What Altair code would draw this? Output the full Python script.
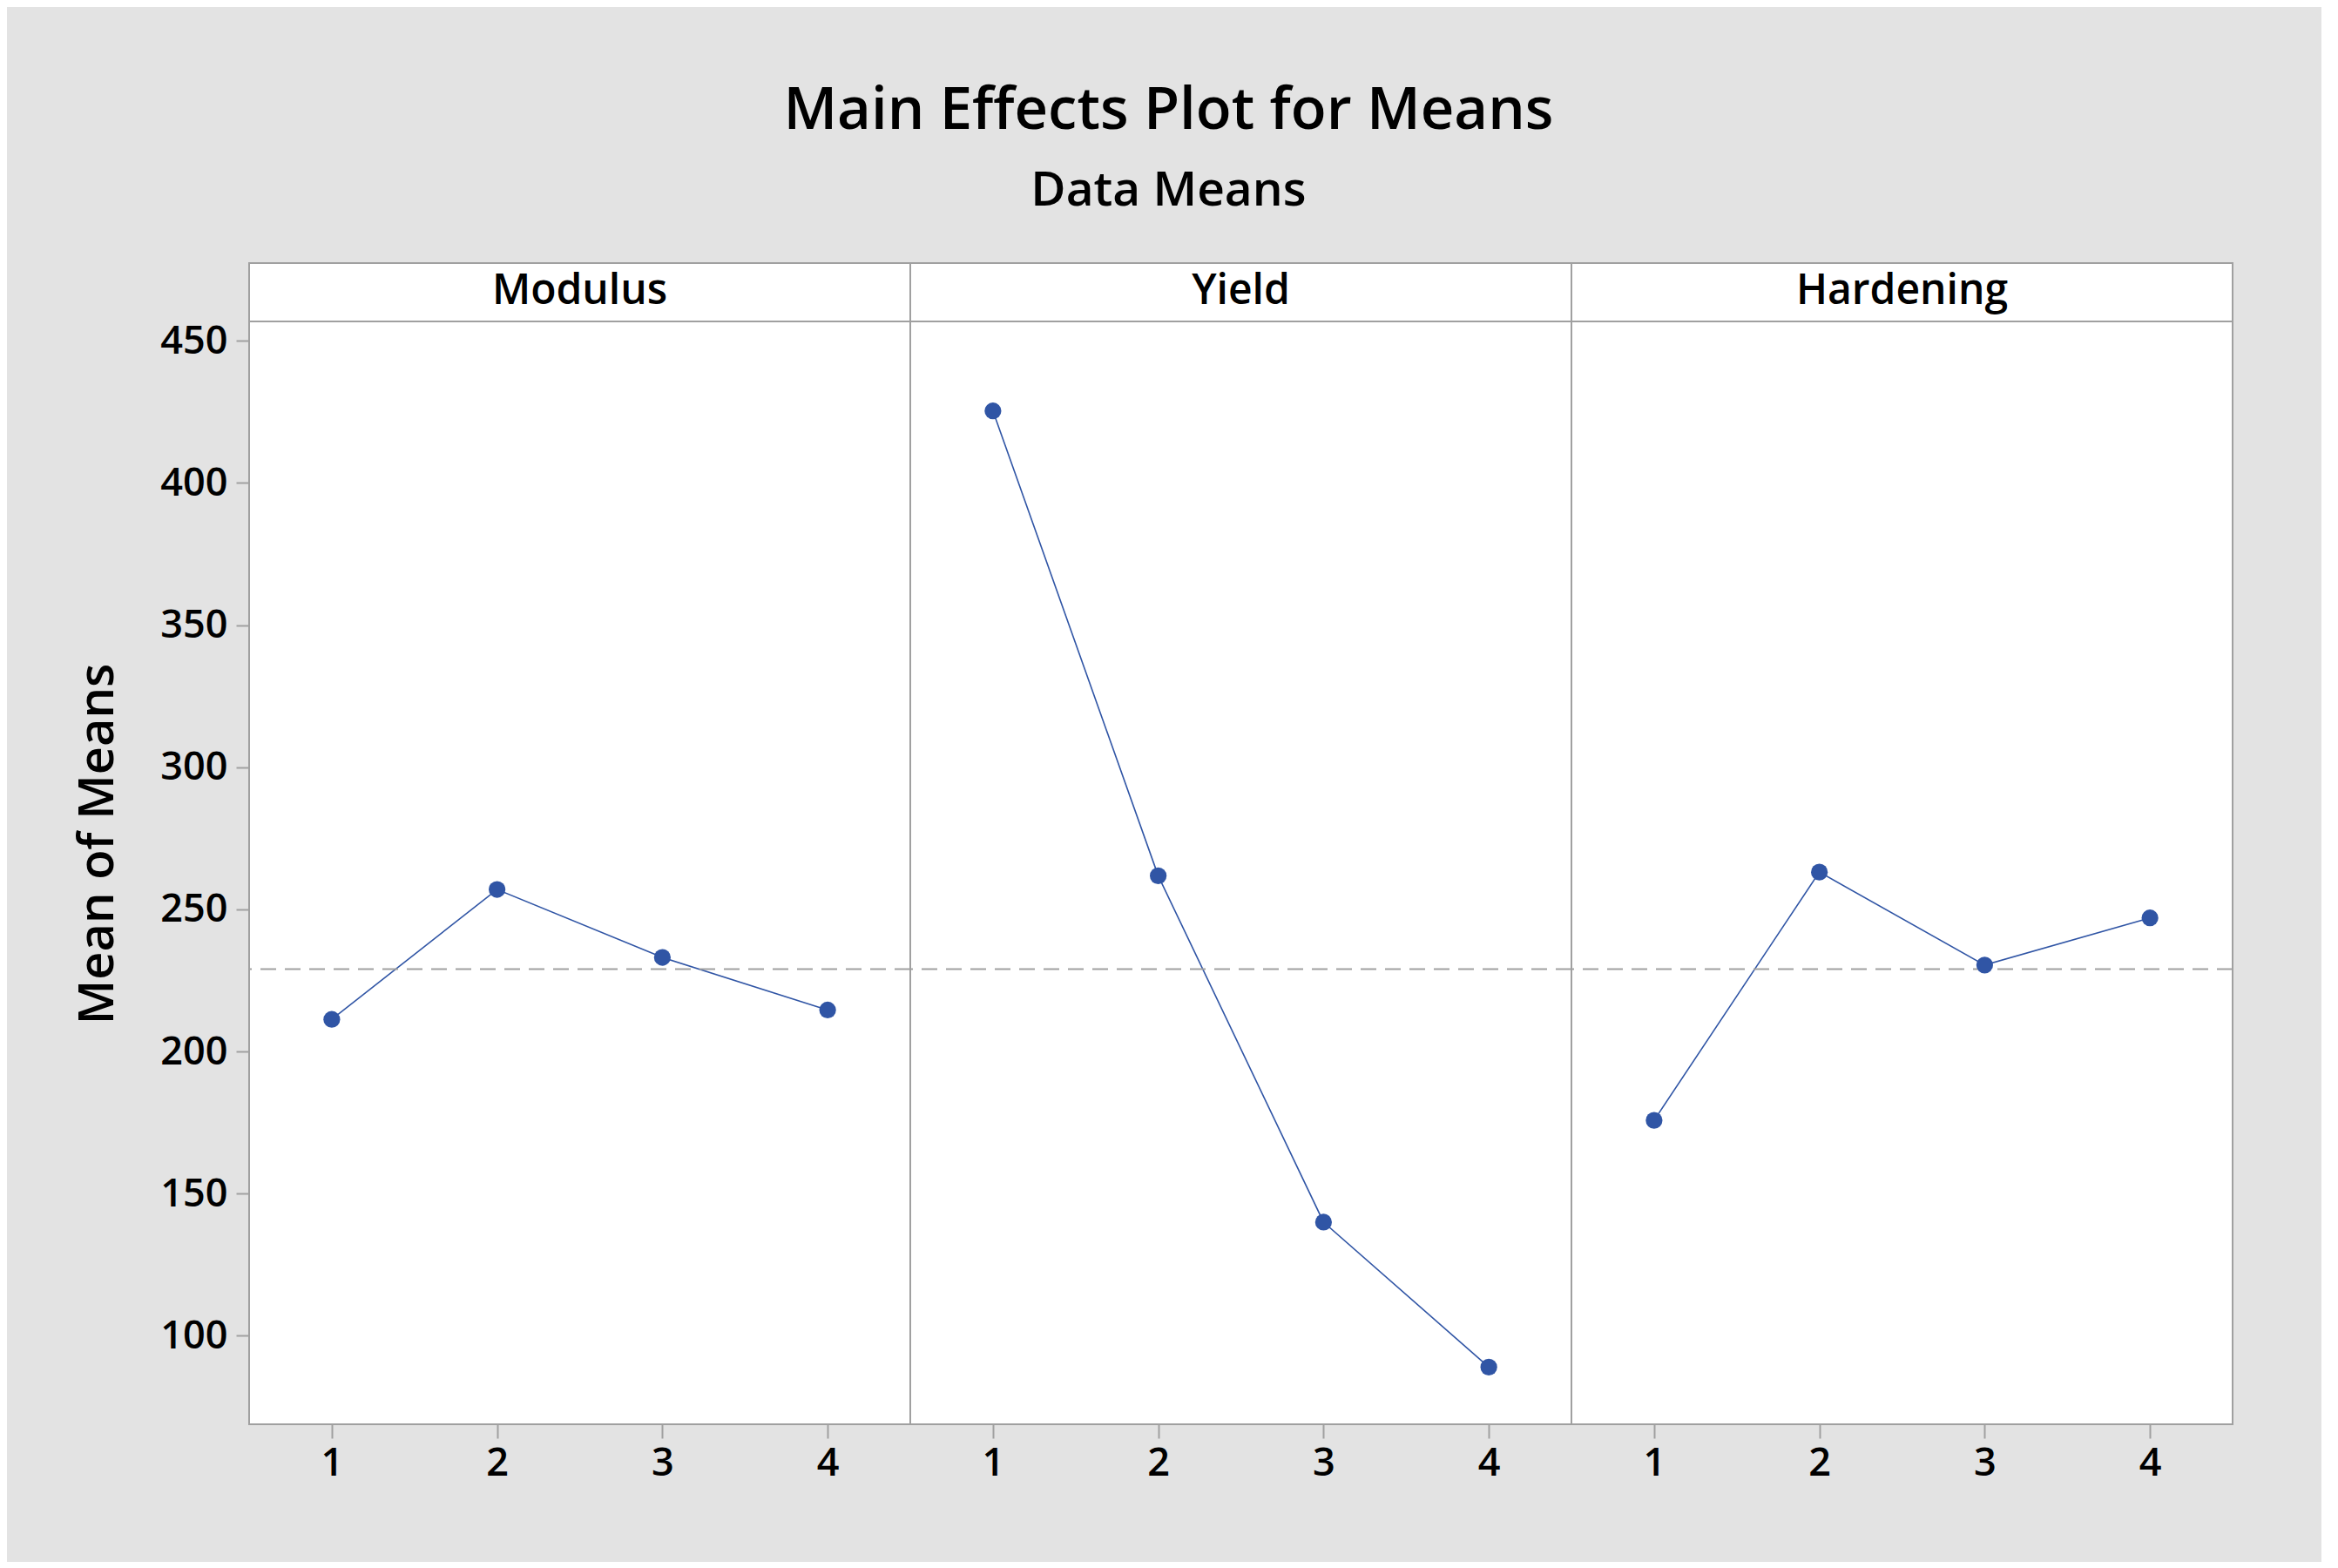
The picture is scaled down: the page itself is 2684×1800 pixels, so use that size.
import altair as alt
import pandas as pd

# ---- data ----
factors = ["Modulus", "Yield", "Hardening"]
levels = [1, 2, 3, 4]
modulus_means = [211.3, 257.0, 233.1, 214.6]
yield_means = [425.3, 261.8, 140.0, 89.0]
hardening_means = [175.8, 263.1, 230.4, 247.0]
grand_mean = 229.0
y_ticks = [100, 150, 200, 250, 300, 350, 400, 450]

series = {"Modulus": modulus_means, "Yield": yield_means, "Hardening": hardening_means}

FONT = "Open Sans"
BLUE = "#3055A5"
GRAY = "#A0A0A0"
PANEL_W = 759
PANEL_H = 1333
Y_DOMAIN = [68.9, 477.3]


def make_panel(name, first):
    df = pd.DataFrame({"level": levels, "mean": series[name]})
    base = alt.Chart(df)
    if first:
        yaxis = alt.Axis(values=y_ticks, title="Mean of Means")
    else:
        yaxis = None
    y = alt.Y("mean:Q", scale=alt.Scale(domain=Y_DOMAIN, nice=False, zero=False), axis=yaxis)
    x = alt.X("level:Q", scale=alt.Scale(domain=[0.5, 4.5], nice=False, zero=False),
              axis=alt.Axis(values=levels, format="d", title=None))
    line = base.mark_line(color=BLUE, strokeWidth=1.6).encode(x=x, y=y)
    pts = base.mark_circle(size=370, opacity=1, color=BLUE).encode(x=x, y=y)
    ref = alt.Chart(pd.DataFrame({"mean": [grand_mean]})).mark_rule(
        color=GRAY, strokeWidth=2, strokeDash=[18, 10]).encode(y=y)
    hdr = alt.Chart(pd.DataFrame({"t": [name]}))
    sep = hdr.mark_rule(color=GRAY, strokeWidth=2).encode(y=alt.value(67))
    txt = hdr.mark_text(font=FONT, fontSize=48, fontWeight=600, color="black",
                        align="center", baseline="middle").encode(
        text="t:N", x=alt.value(PANEL_W / 2), y=alt.value(33))
    return alt.layer(line, ref, pts, sep, txt).properties(width=PANEL_W, height=PANEL_H)


panels = [make_panel(f, i == 0) for i, f in enumerate(factors)]

chart = alt.hconcat(*panels, spacing=0, bounds="flush").properties(
    title=alt.TitleParams(
        text="Main Effects Plot for Means",
        subtitle="Data Means",
        font=FONT, fontSize=67, fontWeight=600, color="black",
        subtitleFont=FONT, subtitleFontSize=55, subtitleFontWeight=600, subtitleColor="black",
        anchor="middle", dx=17, offset=53, subtitlePadding=31,
    ),
    padding={"left": 75, "top": 86, "right": 100, "bottom": 90},
    background="#E3E3E3",
).configure_view(
    stroke=GRAY, strokeWidth=2, fill="white"
).configure_axis(
    labelFont=FONT, labelFontSize=45, labelFontWeight=600, labelColor="black",
    tickColor=GRAY, tickWidth=2, domain=False, grid=False,
    titleFont=FONT, titleFontSize=56, titleFontWeight=600, titleColor="black",
).configure_axisY(
    tickSize=15, labelPadding=10, titlePadding=42,
).configure_axisX(
    tickSize=16, labelPadding=6,
)

chart.save("out.html", embed_options={"renderer": "svg", "actions": False})
